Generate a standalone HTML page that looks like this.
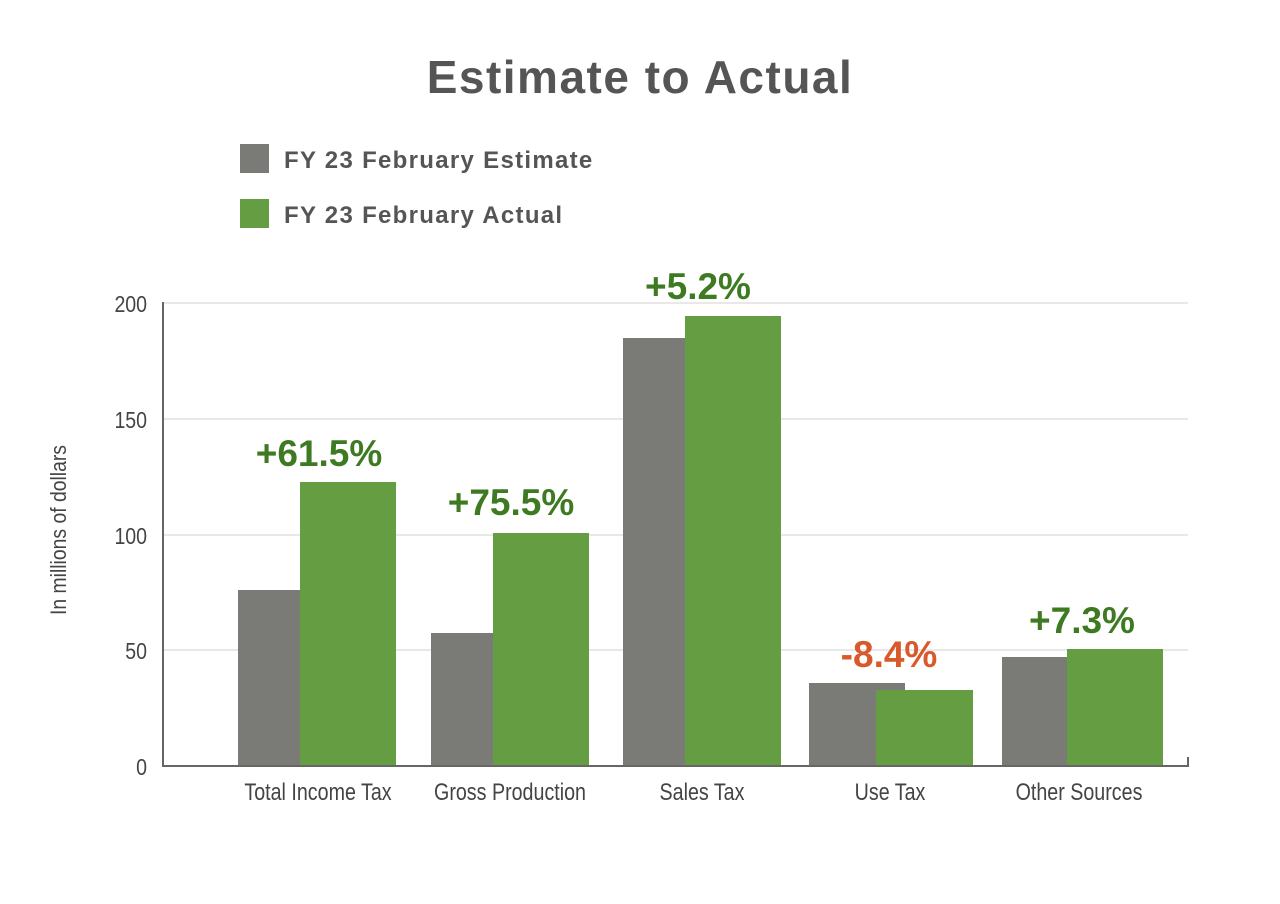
<!DOCTYPE html>
<html><head><meta charset="utf-8"><style>
body{margin:0;background:#fff;}
svg text{font-family:"Liberation Sans",sans-serif;}
</style></head><body>
<svg width="1280" height="899" viewBox="0 0 1280 899" xmlns="http://www.w3.org/2000/svg">
<rect width="1280" height="899" fill="#fff"/>
<text x="640" y="93" text-anchor="middle" font-size="46" font-weight="bold" fill="#555" letter-spacing="1.5">Estimate to Actual</text>
<rect x="240" y="144" width="29" height="29" fill="#7a7a76"/>
<text x="284" y="168" font-size="24" font-weight="bold" fill="#555" letter-spacing="1.3">FY 23 February Estimate</text>
<rect x="240" y="199" width="29" height="29" fill="#659d42"/>
<text x="284" y="223" font-size="24" font-weight="bold" fill="#555" letter-spacing="1.3">FY 23 February Actual</text>
<g stroke="#e8e8e8" stroke-width="2">
<line x1="164" x2="1188" y1="303" y2="303"/><line x1="164" x2="1188" y1="419" y2="419"/>
<line x1="164" x2="1188" y1="535" y2="535"/><line x1="164" x2="1188" y1="650" y2="650"/>
</g>
<g font-size="23" fill="#444" text-anchor="end" transform="scale(0.85,1)">
<text x="173" y="312">200</text><text x="173" y="428">150</text><text x="173" y="544">100</text><text x="173" y="659">50</text><text x="173" y="775">0</text>
</g>
<text transform="translate(66,530) rotate(-90) scale(0.88,1)" text-anchor="middle" font-size="22" fill="#444">In millions of dollars</text>
<g fill="#7a7a76">
<rect x="238" y="590" width="96" height="176"/><rect x="431" y="633" width="96" height="133"/>
<rect x="623" y="338" width="96" height="428"/><rect x="809" y="683" width="96" height="83"/>
<rect x="1002" y="657" width="96" height="109"/>
</g>
<g fill="#659d42">
<rect x="300" y="482" width="96" height="284"/><rect x="493" y="533" width="96" height="233"/>
<rect x="685" y="316" width="96" height="450"/><rect x="876" y="690" width="97" height="76"/>
<rect x="1067" y="649" width="96" height="117"/>
</g>
<g stroke="#666" stroke-width="2" fill="none">
<line x1="163" y1="302" x2="163" y2="767"/><line x1="162" y1="766" x2="1188" y2="766"/><line x1="1188" y1="757" x2="1188" y2="767"/>
</g>
<g font-size="37" font-weight="bold" text-anchor="middle">
<text x="319" y="466" fill="#3e7a22">+61.5%</text>
<text x="511" y="515" fill="#3e7a22">+75.5%</text>
<text x="698" y="299" fill="#3e7a22">+5.2%</text>
<text x="889" y="667" fill="#d9592a">-8.4%</text>
<text x="1082" y="633" fill="#3e7a22">+7.3%</text>
</g>
<g font-size="24" fill="#444" text-anchor="middle">
<text transform="translate(318,800) scale(0.82,1)">Total Income Tax</text>
<text transform="translate(510,800) scale(0.82,1)">Gross Production</text>
<text transform="translate(702,800) scale(0.82,1)">Sales Tax</text>
<text transform="translate(890,800) scale(0.82,1)">Use Tax</text>
<text transform="translate(1079,800) scale(0.82,1)">Other Sources</text>
</g>
</svg>
</body></html>
